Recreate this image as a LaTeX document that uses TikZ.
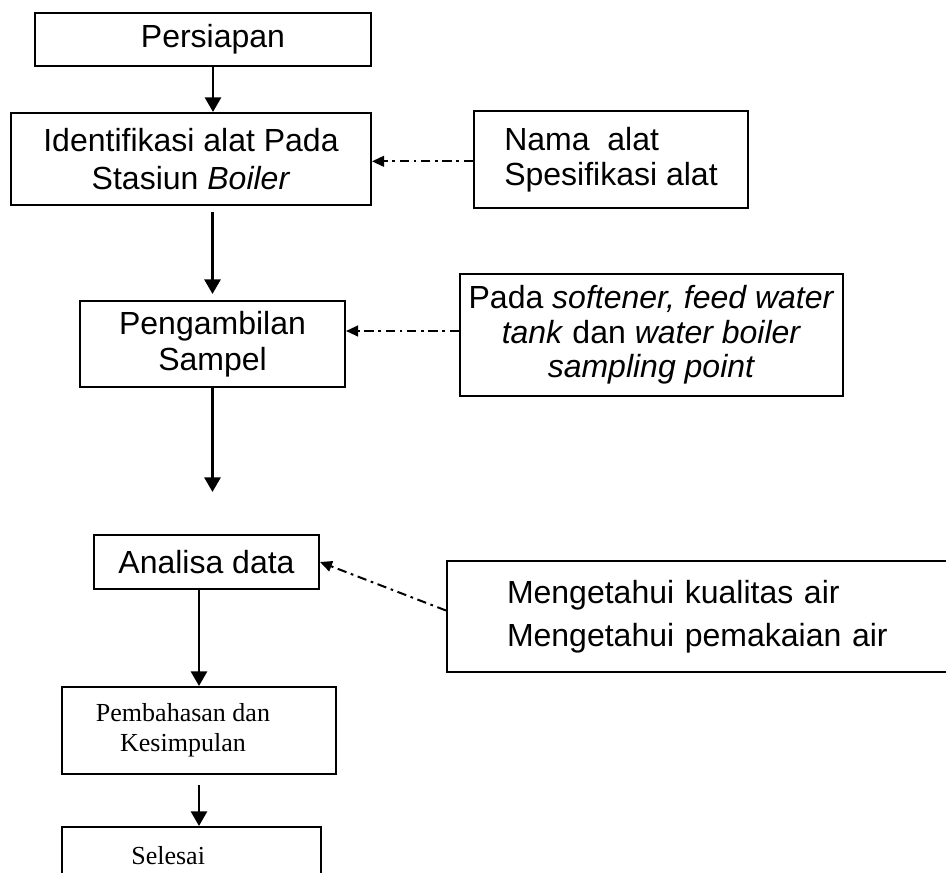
\documentclass[tikz,border=0pt]{standalone}
\usepackage{fontspec}
\setmainfont{Liberation Sans}
\newfontfamily\timesfont{Liberation Serif}
\usetikzlibrary{arrows.meta, positioning, calc}

\begin{document}
\begin{tikzpicture}[
  x=0.75pt, y=-0.75pt,
  stage/.style={draw, line width=1.5pt, align=center, inner sep=0pt, font=\fontsize{24}{28}\selectfont},
  note/.style={stage, align=left},
  serif/.style={stage, font=\timesfont\fontsize{19.5}{22.5}\selectfont},
  arr/.style={-{Triangle[length=11pt, width=12pt]}, line width=2.2pt},
  hint/.style={-{Triangle[length=9pt, width=8pt]}, line width=1.5pt, dash pattern=on 7pt off 3.5pt on 2pt off 3.5pt},
]
  \clip (0,0) rectangle (946,873);
  \node[stage, minimum width=252pt, minimum height=39.75pt] (persiapan) at (203,39.5) {\hspace*{15pt}Persiapan};
  \node[stage, minimum width=270pt, minimum height=69pt, font=\fontsize{24}{28.5}\selectfont] (identifikasi) at (191,159) {Identifikasi alat Pada\\Stasiun \textit{Boiler}};
  \node[note, minimum width=205.5pt, minimum height=72.75pt, font=\fontsize{24}{26.5}\selectfont] (nama) at (611,160) {Nama\ \ alat\\Spesifikasi alat};
  \node[stage, minimum width=198.75pt, minimum height=64.5pt, font=\fontsize{24}{27}\selectfont] (pengambilan) at (212.5,344) {Pengambilan\\Sampel};
  \node[stage, minimum width=287.25pt, minimum height=91.5pt, font=\fontsize{24}{26}\selectfont] (pada) at (651.5,335) {Pada \textit{softener, feed water}\\\textit{tank} dan \textit{water boiler}\\\textit{sampling point}};
  \coordinate (sampelend) at (212.5,492);
  \node[stage, minimum width=168.75pt, minimum height=40.5pt] (analisa) at (206.5,562) {Analisa data};
  \node[note, text width=306pt, inner xsep=45pt, minimum height=83.25pt, font=\fontsize{24}{32}\selectfont] (mengetahui) at (711,616.5) {Mengetahui kualitas air\\Mengetahui pemakaian air};
  \node[serif, minimum width=205.5pt, minimum height=65.25pt] (pembahasan) at (199,730.5) {Pembahasan dan\hspace*{24pt}\\Kesimpulan\hspace*{24pt}};
  \node[serif, minimum width=194.25pt, minimum height=43.5pt] (selesai) at (191.5,856) {Selesai\hspace*{35pt}};

  \draw[arr] ([xshift=7.5pt]persiapan.south) -- ([xshift=7.5pt]persiapan.south |- identifikasi.north);
  \draw[arr, shorten <=4.5pt, shorten >=4.5pt] (identifikasi.south -| pengambilan.north) -- (pengambilan.north);
  \draw[arr] (pengambilan.south) -- (sampelend);
  \draw[arr] (analisa.south -| pembahasan.north) -- (pembahasan.north);
  \draw[arr, shorten <=7.5pt] (pembahasan.south) -- (pembahasan.south |- selesai.north);
  \draw[hint] ([yshift=-1pt]nama.west) -- ([yshift=-1pt]nama.west -| identifikasi.east);
  \draw[hint] ([yshift=3pt]pada.west) -- ([yshift=3pt]pada.west -| pengambilan.east);
  \draw[hint] ([yshift=4.5pt]mengetahui.west) -- (analisa.east);
\end{tikzpicture}
\end{document}
